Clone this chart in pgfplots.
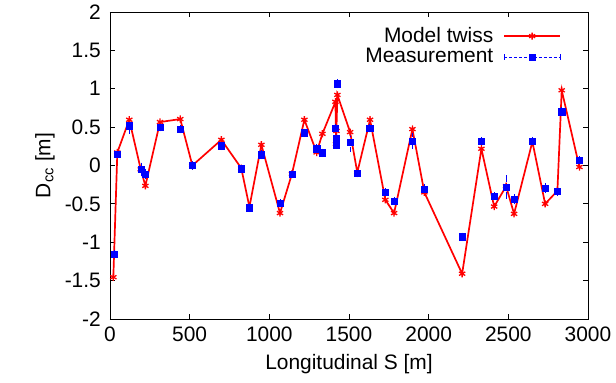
\documentclass[border=0pt]{standalone}
\usepackage{pgfplots}
\pgfplotsset{compat=1.18}
\usepackage{fontspec}
\setmainfont{Liberation Sans}
\begin{document}
\fontsize{21}{25}\selectfont
\begin{tikzpicture}
\begin{axis}[
  at={(0,0)}, anchor=south west,
  scale only axis, width=478bp, height=307bp,
  xmin=0, xmax=3000, ymin=-2, ymax=2,
  xtick={0,500,...,3000},
  ytick={-2,-1.5,-1,-0.5,0,0.5,1,1.5,2},
  yticklabels={-2,-1.5,-1,-0.5,0,0.5,1,1.5,2},
  /pgf/number format/1000 sep={},
  tick align=inside, major tick length=5bp,
  tick style={black, line width=0.8pt},
  axis line style={line width=1pt},
  /pgf/number format/assume math mode=true,
  ticklabel style={font=\fontsize{21}{25}\selectfont},
  xticklabel style={yshift=-1bp},
  yticklabel style={xshift=-2bp},
  xlabel={Longitudinal S [m]},
  ylabel={D\textsubscript{cc} [m]},
  label style={font=\fontsize{21}{25}\selectfont},
  xlabel style={yshift=2bp},
  ylabel style={yshift=-4bp},
  legend style={draw=none, fill=none, at={(0.95,0.965)}, anchor=north east,
    font=\fontsize{21}{25}\selectfont, row sep=-1bp, column sep=8bp},
  legend cell align=right,
  legend plot pos=right,
]
\addlegendimage{legend image code/.code={
  \draw[red, line width=1.6pt] (0bp,0bp) -- (56bp,0bp);
  \path[red, fill=red, line width=1.3pt] plot[mark=asterisk, mark size=3.5pt] coordinates {(28bp,0bp)};
}}
\addlegendentry{Model twiss}
\addlegendimage{legend image code/.code={
  \draw[blue, densely dashed, line width=0.8pt] (0bp,0bp) -- (56bp,0bp);
  \draw[blue, line width=0.8pt] (0bp,-3bp) -- (0bp,3bp) (56bp,-3bp) -- (56bp,3bp);
  \path[blue, fill=blue] plot[mark=square*, mark size=3.2pt] coordinates {(28bp,0bp)};
}}
\addlegendentry{Measurement}
\addplot[red, line width=1.7pt, mark=asterisk, mark size=3.6pt, mark options={line width=1.3pt}, forget plot] coordinates {
(21,-1.455) (46,0.17) (121,0.596) (193,-0.05) (222,-0.265) (314,0.566) (441,0.605)
(517,0.0) (699,0.335) (824,-0.035) (875,-0.54) (950,0.27) (1067,-0.62) (1142,-0.108)
(1220,0.596) (1297,0.17) (1333,0.413) (1415,0.83) (1419,0.28) (1421,0.45) (1427,0.92)
(1507,0.435) (1552,-0.09) (1632,0.596) (1728,-0.447) (1783,-0.62) (1898,0.474)
(1973,-0.35) (2210,-1.41) (2331,0.218) (2411,-0.535) (2486,-0.27) (2536,-0.63)
(2651,0.31) (2731,-0.5) (2808,-0.33) (2835,0.98) (2946,-0.02)
};
\addplot[blue, only marks, mark=square*, mark size=3.2pt, forget plot,
  error bars/.cd, y dir=both, y explicit,
  error bar style={blue, densely dashed, line width=0.8pt},
  error mark options={blue, solid, mark size=2pt, line width=0.8pt}] coordinates {
(25,-1.155) +- (0,0.03)
(46,0.15) +- (0,0.03)
(121,0.52) +- (0,0.08)
(195,-0.047) +- (0,0.06)
(222,-0.11) +- (0,0.04)
(314,0.50) +- (0,0.03)
(441,0.474) +- (0,0.03)
(517,0.0) +- (0,0.03)
(699,0.257) +- (0,0.03)
(824,-0.043) +- (0,0.03)
(875,-0.55) +- (0,0.03)
(950,0.14) +- (0,0.03)
(1067,-0.49) +- (0,0.03)
(1142,-0.11) +- (0,0.03)
(1220,0.426) +- (0,0.03)
(1297,0.218) +- (0,0.03)
(1333,0.165) +- (0,0.03)
(1415,0.488) +- (0,0.03)
(1419,0.27) +- (0,0.03)
(1421,0.357) +- (0,0.03)
(1427,1.065) +- (0,0.03)
(1507,0.305) +- (0,0.1)
(1552,-0.1) +- (0,0.03)
(1630,0.487) +- (0,0.03)
(1728,-0.35) +- (0,0.03)
(1783,-0.465) +- (0,0.03)
(1898,0.32) +- (0,0.08)
(1973,-0.31) +- (0,0.04)
(2210,-0.93) +- (0,0.03)
(2331,0.317) +- (0,0.03)
(2411,-0.4) +- (0,0.03)
(2486,-0.28) +- (0,0.13)
(2536,-0.44) +- (0,0.04)
(2651,0.317) +- (0,0.03)
(2731,-0.295) +- (0,0.04)
(2808,-0.335) +- (0,0.03)
(2834,0.70) +- (0,0.03)
(2946,0.07) +- (0,0.03)
};
\end{axis}
\pgfresetboundingbox
\path[use as bounding box] (-110bp,-64bp) rectangle (506bp,319bp);
\end{tikzpicture}
\end{document}
